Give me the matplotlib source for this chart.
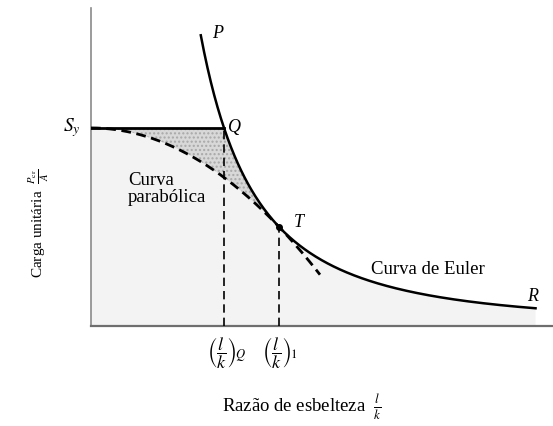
import numpy as np
import matplotlib
matplotlib.use("Agg")
import matplotlib.pyplot as plt
from matplotlib.transforms import ScaledTranslation

plt.rcParams['font.family'] = ['Liberation Serif', 'DejaVu Serif']
plt.rcParams['mathtext.fontset'] = 'stix'

# material constants (ksi) that set the two curves
Sy = 36.0
E = 29000.0
C = np.pi ** 2 * E

# slenderness values where the curves start / end
lk_P = 73.6       # top of the Euler branch
lk_R = 298.0      # end of the Euler branch
lk_par_end = 153.5
x_max, y_max = 309.7, 57.8

lk_Q = np.sqrt(C / Sy)          # Euler meets Sy
lk_1 = np.sqrt(2 * C / Sy)      # tangent point T

def euler(x):
    return C / x ** 2

def johnson(x):
    return Sy - Sy ** 2 / (4 * C) * x ** 2

fig = plt.figure(figsize=(5.53, 4.26), dpi=100)
ax = fig.add_axes([91 / 553, 100 / 426, 462 / 553, 318 / 426])
ax.set_xlim(0, x_max)
ax.set_ylim(0, y_max)

# shaded regions
xs = np.linspace(0.01, lk_R, 600)
env = np.minimum(Sy, euler(xs))
ax.fill_between(xs, 0, env, facecolor='#f3f3f3', edgecolor='none', zorder=1)
xw = np.linspace(0.01, lk_1, 400)
ax.fill_between(xw, johnson(xw), np.minimum(Sy, euler(xw)), facecolor='#d8d8d8',
                edgecolor='#a8a8a8', hatch='....', linewidth=0, zorder=2)

# curves
xe = np.linspace(lk_P, lk_R, 400)
ax.plot(xe, euler(xe), color='black', lw=1.8, zorder=4)
ax.plot([0, lk_Q], [Sy, Sy], color='black', lw=2.0, zorder=4)
xp = np.linspace(0, lk_par_end, 300)
ax.plot(xp, johnson(xp), color='black', lw=2.0, ls=(0, (3.5, 2.0)), zorder=4)
ax.plot([lk_Q, lk_Q], [0, Sy], color='black', lw=1.2, ls=(0, (5, 3)), zorder=3)
ax.plot([lk_1, lk_1], [0, Sy / 2], color='black', lw=1.2, ls=(0, (5, 3)), zorder=3)
ax.plot([lk_1], [Sy / 2], 'o', color='black', ms=4, zorder=5)

# point labels
lab = dict(fontsize=13, style='italic', ha='center', va='center')
ax.text(85.1, 53.1, 'P', **lab)
ax.text(95.9, 36.0, 'Q', **lab)
ax.text(139.4, 18.9, 'T', **lab)
ax.text(296.3, 5.45, 'R', **lab)
ax.text(-7, Sy, r'$S_y$', fontsize=14, ha='right', va='center', clip_on=False)

ax.text(24.8, 24.9, 'Curva\nparabólica', fontsize=13.5, ha='left', va='center',
        linespacing=1.05)
ax.text(225.9, 10.2, 'Curva de Euler', fontsize=13.5, ha='center', va='center')

# axes
for s in ('top', 'right'):
    ax.spines[s].set_visible(False)
ax.spines['left'].set_color('#8a8a8a')
ax.spines['left'].set_linewidth(1.2)
ax.spines['bottom'].set_color('#6e6e6e')
ax.spines['bottom'].set_linewidth(1.6)
ax.set_xticks([lk_Q, lk_1])
ax.set_xticklabels([r'$\left(\dfrac{l}{k}\right)_{\!Q}$', r'$\left(\dfrac{l}{k}\right)_{\!1}$'],
                   fontsize=13)
ax.tick_params(axis='x', length=0, pad=7)
ax.set_yticks([])
# shift tick labels so the fraction sits under its dashed line
off = ScaledTranslation(-17 / 100, 0, fig.dpi_scale_trans)
for t in ax.get_xticklabels():
    t.set_horizontalalignment('left')
    t.set_transform(t.get_transform() + off)

fig.text(302 / 553, 1 - 407 / 426, r'Razão de esbelteza  $\frac{l}{k}$', fontsize=13.5,
         ha='center', va='center')
fig.text(39 / 553, 1 - 223 / 426, r'Carga unitária  $\frac{P_{\rm cr}}{A}$', fontsize=11,
         ha='center', va='center', rotation=90)

fig.savefig('out.png', dpi=100)
